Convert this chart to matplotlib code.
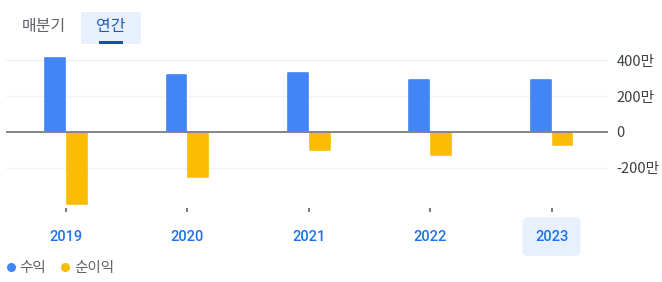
import numpy as np
import matplotlib.pyplot as plt
from matplotlib.lines import Line2D
from matplotlib.patches import FancyBboxPatch

plt.rcParams['font.family'] = ['Noto Sans CJK KR', 'DejaVu Sans']

# ---- data (unit: 만) ----
years = ['2019', '2020', '2021', '2022', '2023']
revenue = [411, 319, 331, 287, 292]
net_income = [-405, -253, -101, -131, -75]
y_ticks = [-200, 0, 200, 400]
y_tick_labels = ['-200만', '0', '200만', '400만']

BLUE = '#4285f4'
YELLOW = '#fbbc04'
GRAY_TXT = '#5f6368'

W, H = 662, 282
fig = plt.figure(figsize=(W / 100, H / 100), dpi=100)

# axes placed in pixel terms
left, right, top, bottom = 6, 608, 50, 208
ax = fig.add_axes([left / W, 1 - bottom / H, (right - left) / W, (bottom - top) / H])

x = np.arange(len(years))
bw = 0.163
ax.bar(x - 0.09, revenue, width=bw, color=BLUE, edgecolor=BLUE,
       linewidth=1.2, joinstyle='round', zorder=2)
ax.bar(x + 0.09, net_income, width=bw, color=YELLOW, edgecolor=YELLOW,
       linewidth=1.2, joinstyle='round', zorder=2)

ax.axhline(0, color='#80868b', linewidth=1.4, zorder=3)
ax.set_yticks(y_ticks)
ax.set_yticklabels(y_tick_labels)
ax.yaxis.tick_right()
ax.grid(axis='y', color='#f1f3f4', linewidth=1, zorder=0)
ax.set_axisbelow(True)
ax.set_ylim(-425, 457)
ax.set_xlim(-0.495, 4.465)

ax.set_xticks(x)
ax.set_xticklabels(years)
ax.tick_params(axis='x', length=3, width=1.2, color='#5f6368', pad=12.5,
               labelsize=10.5, labelcolor='#1a73e8')
ax.tick_params(axis='y', length=0, pad=6, labelsize=10.5, labelcolor='#3c4043')
for lab in ax.get_xticklabels():
    lab.set_family(['Roboto', 'DejaVu Sans'])
    lab.set_fontweight('medium')
last = ax.get_xticklabels()[-1]
last.set_bbox(dict(boxstyle='round,pad=0.85,rounding_size=0.4',
                   fc='#e8f0fe', ec='none'))

for s in ax.spines.values():
    s.set_visible(False)

# ---- tab header ----
fig.patches.append(FancyBboxPatch((81 / W, 1 - 44 / H), 60 / W, 32 / H,
                                  boxstyle='square,pad=0', fc='#e8f0fe', ec='none',
                                  transform=fig.transFigure, figure=fig))
fig.patches.append(FancyBboxPatch((99 / W, 1 - 44 / H), 24 / W, 3 / H,
                                  boxstyle='square,pad=0', fc='#174ea6', ec='none',
                                  transform=fig.transFigure, figure=fig))
fig.text(43.5 / W, 1 - 27 / H, '매분기', ha='center', va='center',
         fontsize=11.5, color=GRAY_TXT)
fig.text(111 / W, 1 - 27 / H, '연간', ha='center', va='center',
         fontsize=11.5, color='#1f5bb5')

# ---- legend ----
handles = [Line2D([], [], marker='o', linestyle='none', markersize=5.5,
                  markerfacecolor=BLUE, markeredgecolor=BLUE, label='수익'),
           Line2D([], [], marker='o', linestyle='none', markersize=5.5,
                  markerfacecolor=YELLOW, markeredgecolor=YELLOW, label='순이익')]
leg = fig.legend(handles=handles, loc='center left', bbox_to_anchor=(0.003, 1 - 268 / H),
                 ncol=2, frameon=False, fontsize=10.5, handletextpad=0.1,
                 columnspacing=0.8, handlelength=1.0, borderaxespad=0,
                 borderpad=0.1)
for t in leg.get_texts():
    t.set_color(GRAY_TXT)

fig.savefig('out.png', dpi=100)
